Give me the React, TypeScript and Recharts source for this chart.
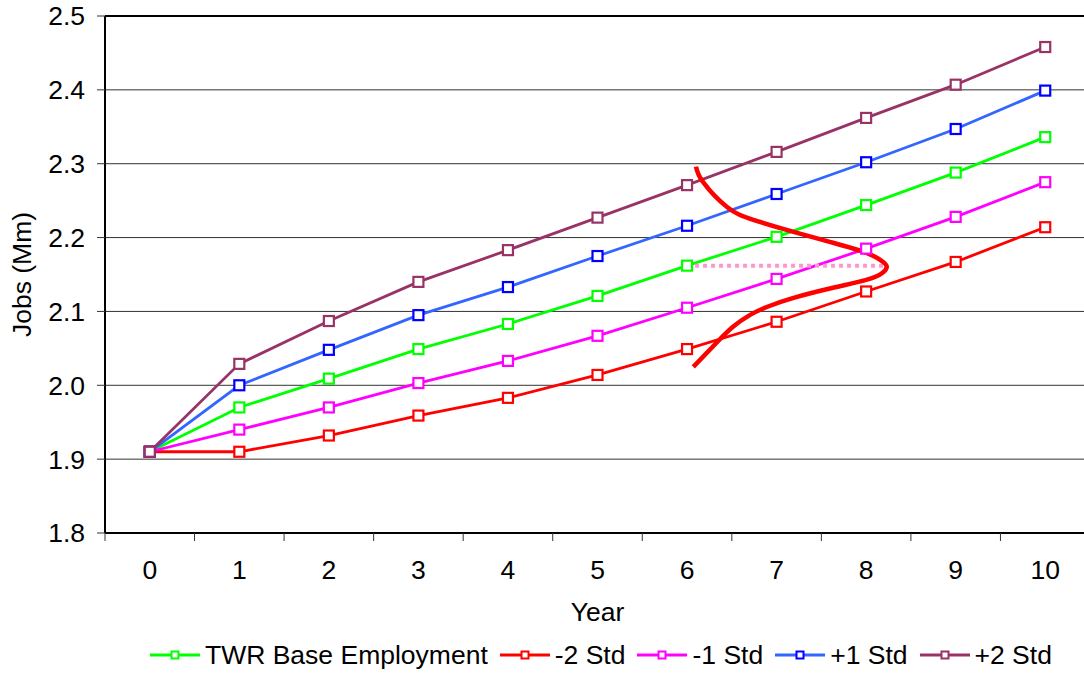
import { LineChart, Line, XAxis, YAxis, CartesianGrid, Legend, ReferenceLine } from 'recharts';

// years on the x axis
const years = [0, 1, 2, 3, 4, 5, 6, 7, 8, 9, 10];

// jobs in millions
const base = [1.91, 1.97, 2.009, 2.049, 2.083, 2.121, 2.162, 2.201, 2.244, 2.288, 2.336];
const minus2 = [1.91, 1.91, 1.932, 1.959, 1.983, 2.014, 2.049, 2.086, 2.127, 2.167, 2.214];
const minus1 = [1.91, 1.94, 1.97, 2.003, 2.033, 2.067, 2.105, 2.144, 2.185, 2.228, 2.275];
const plus1 = [1.91, 2.0, 2.048, 2.095, 2.133, 2.175, 2.216, 2.259, 2.302, 2.347, 2.399];
const plus2 = [1.91, 2.029, 2.087, 2.14, 2.183, 2.227, 2.271, 2.316, 2.362, 2.407, 2.458];

// hand-drawn distribution curve (year position, jobs)
const bellX = [6.1, 6.18, 6.45, 6.74, 7.18, 7.63, 8.01, 8.19, 8.23, 8.18, 8.01, 7.63, 7.18, 6.89, 6.7, 6.51, 6.34, 6.07];
const bellY = [2.296, 2.275, 2.241, 2.224, 2.208, 2.193, 2.179, 2.167, 2.16, 2.152, 2.143, 2.132, 2.118, 2.106, 2.095, 2.079, 2.059, 2.025];

// dotted line from the base point to the peak of the curve
const peakX = [6, 8.23];
const peakY = [2.162, 2.162];

const yTicks = [1.8, 1.9, 2.0, 2.1, 2.2, 2.3, 2.4, 2.5];
const xTicks = [-0.5, 0, 0.5, 1, 1.5, 2, 2.5, 3, 3.5, 4, 4.5, 5, 5.5, 6, 6.5, 7, 7.5, 8, 8.5, 9, 9.5, 10, 10.5];

const series = [
  { key: 'base', name: 'TWR Base Employment', line: '#00ff00', mark: '#00ff00' },
  { key: 'minus2', name: '-2 Std', line: '#ff0000', mark: '#ff0000' },
  { key: 'minus1', name: '-1 Std', line: '#ff00ff', mark: '#ff00ff' },
  { key: 'plus1', name: '+1 Std', line: '#3366ff', mark: '#0000ff' },
  { key: 'plus2', name: '+2 Std', line: '#993366', mark: '#993366' },
];

const chartData = years.map((x, i) => ({
  x,
  base: base[i],
  minus2: minus2[i],
  minus1: minus1[i],
  plus1: plus1[i],
  plus2: plus2[i],
}));
const bellData = bellX.map((x, i) => ({ x, bell: bellY[i] }));
const peakData = peakX.map((x, i) => ({ x, peak: peakY[i] }));

const FONT = '"Liberation Sans", Arial, sans-serif';
const FS = 26.5;

function SquareDot(color: string) {
  return (props: any) => {
    const { cx, cy, index } = props;
    if (cx == null || cy == null) return null;
    return <rect key={index} x={cx - 5} y={cy - 5} width={10} height={10} fill="#fff" stroke={color} strokeWidth={2.2} />;
  };
}

// integers get a label, half steps get the tick mark between categories
function YearTick(props: any) {
  const { x, y, payload } = props;
  const v = payload.value as number;
  if (Number.isInteger(v)) {
    return (
      <text x={x} y={y + 38} textAnchor="middle" fontSize={FS} fontFamily={FONT} fill="#000">
        {v}
      </text>
    );
  }
  return <line x1={x} x2={x} y1={y - 8} y2={y} stroke="#333" strokeWidth={1} />;
}

function LegendBox() {
  return (
    <div style={{ display: 'flex', alignItems: 'center', height: 40, boxSizing: 'border-box', paddingBottom: 4, paddingLeft: 150, gap: 12, fontFamily: FONT, fontSize: FS, color: '#000' }}>
      {series.map((s) => (
        <div key={s.key} style={{ display: 'flex', alignItems: 'center', gap: 5 }}>
          <svg width={50} height={12}>
            <line x1={0} x2={50} y1={6} y2={6} stroke={s.line} strokeWidth={2.8} />
            <rect x={21.5} y={2.5} width={7} height={7} fill="#fff" stroke={s.mark} strokeWidth={2} />
          </svg>
          <span style={{ lineHeight: '30px' }}>{s.name}</span>
        </div>
      ))}
    </div>
  );
}

export default function App() {
  return (
    <div style={{ position: 'absolute', left: 0, top: 0, fontFamily: FONT }}>
      <LineChart width={1100} height={677} data={chartData} margin={{ top: 16, right: 10, left: 0, bottom: 0 }}>
        <CartesianGrid vertical={false} stroke="#333" strokeWidth={1} />
        <XAxis
          dataKey="x"
          type="number"
          domain={[-0.5, 10.5]}
          ticks={xTicks}
          interval={0}
          height={104}
          tickLine={false}
          tickSize={8}
          tickMargin={0}
          axisLine={{ stroke: '#000', strokeWidth: 2 }}
          tick={<YearTick />}
          label={{ value: 'Year', position: 'insideBottom', offset: 16, fontSize: FS, fill: '#000', fontFamily: FONT }}
        />
        <YAxis
          type="number"
          domain={[1.8, 2.5]}
          ticks={yTicks}
          interval={0}
          width={105}
          tickSize={8}
          tickMargin={12}
          tickLine={{ stroke: '#333', strokeWidth: 1 }}
          axisLine={{ stroke: '#000', strokeWidth: 2 }}
          tick={{ fontSize: FS, fill: '#000', fontFamily: FONT }}
          tickFormatter={(v: number) => v.toFixed(1)}
          label={{ value: 'Jobs (Mm)', angle: -90, position: 'insideLeft', offset: 22, fontSize: FS, fill: '#000', fontFamily: FONT, style: { textAnchor: 'middle' } }}
        />
        <ReferenceLine y={2.5} stroke="#000" strokeWidth={2} />
        <Legend verticalAlign="bottom" align="left" content={<LegendBox />} />
        {series.map((s) => (
          <Line
            key={s.key}
            dataKey={s.key}
            name={s.name}
            type="linear"
            stroke={s.line}
            strokeWidth={2.8}
            dot={SquareDot(s.mark)}
            isAnimationActive={false}
          />
        ))}
        <Line data={peakData} dataKey="peak" type="linear" stroke="#ff99cc" strokeWidth={4} strokeDasharray="4 4" dot={false} legendType="none" isAnimationActive={false} />
        <Line data={bellData} dataKey="bell" type="natural" stroke="#ff0000" strokeWidth={4.5} dot={false} legendType="none" isAnimationActive={false} />
      </LineChart>
    </div>
  );
}
